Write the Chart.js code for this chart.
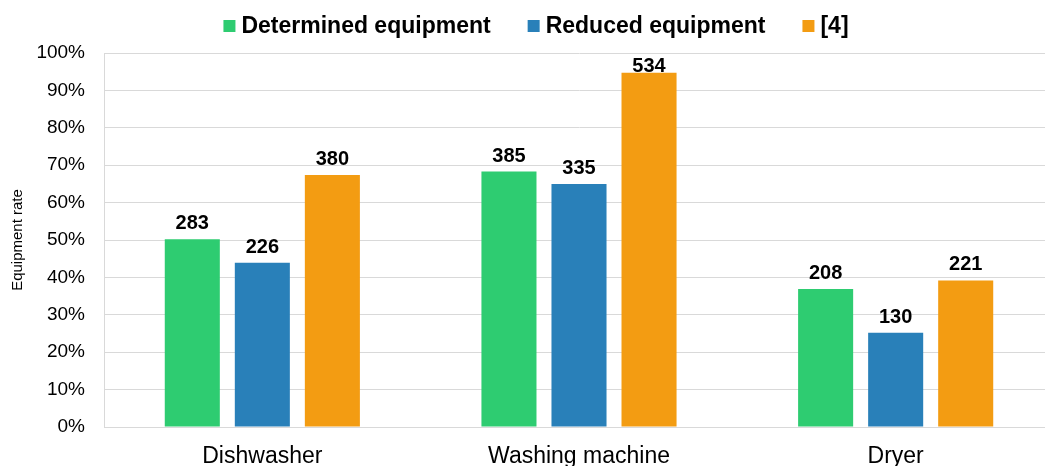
<!DOCTYPE html>
<html>
<head>
<meta charset="utf-8">
<script src="https://cdn.jsdelivr.net/npm/chart.js@4.4.1/dist/chart.umd.min.js"></script>
<style>
  html, body { margin: 0; padding: 0; background: #fff; overflow: hidden; }
  #clip { width: 1045px; height: 466px; overflow: hidden; }
  #wrap { position: relative; width: 1054px; height: 466px; }
</style>
</head>
<body>
<div id="clip"><div id="wrap"><canvas id="chart"></canvas></div></div>
<script>
// categories and series (bar height = share in %, label = count)
const categories = ['Dishwasher', 'Washing machine', 'Dryer'];
const seriesNames = ['Determined equipment', 'Reduced equipment', '[4]'];
const seriesColors = ['#2ecc71', '#2980b9', '#f39c12'];
const determinedRate = [50.2, 68.3, 36.9];
const reducedRate = [43.9, 65.0, 25.2];
const refRate = [67.4, 94.7, 39.2];
const determinedCount = [283, 385, 208];
const reducedCount = [226, 335, 130];
const refCount = [380, 534, 221];
const yTicks = [0, 10, 20, 30, 40, 50, 60, 70, 80, 90, 100];

const FONT = "'Liberation Sans', Arial, sans-serif";

// count above each bar (kept inside the plot when it would spill over the top)
const barLabels = {
  id: 'barLabels',
  afterDatasetsDraw(chart) {
    const ctx = chart.ctx;
    const top = chart.chartArea.top;
    ctx.save();
    ctx.font = 'bold 20px ' + FONT;
    ctx.fillStyle = '#000';
    ctx.textAlign = 'center';
    ctx.textBaseline = 'alphabetic';
    chart.data.datasets.forEach((ds, i) => {
      chart.getDatasetMeta(i).data.forEach((bar, j) => {
        const y = Math.max(bar.y - 10, top + 19);
        ctx.fillText(ds.counts[j], bar.x, y);
      });
    });
    ctx.restore();
  }
};

// legend drawn by hand so the spacing matches the original
const topLegend = {
  id: 'topLegend',
  afterDraw(chart) {
    const ctx = chart.ctx;
    const box = 12, gap = 6, spacing = 37, centerX = 536, centerY = 26;
    ctx.save();
    ctx.font = 'bold 23px ' + FONT;
    ctx.textBaseline = 'middle';
    ctx.textAlign = 'left';
    const widths = seriesNames.map(n => box + gap + ctx.measureText(n).width);
    const total = widths.reduce((a, b) => a + b, 0) + spacing * (widths.length - 1);
    let x = centerX - total / 2;
    seriesNames.forEach((name, i) => {
      ctx.fillStyle = seriesColors[i];
      ctx.fillRect(x, centerY - box / 2, box, box);
      ctx.fillStyle = '#000';
      ctx.fillText(name, x + box + gap, centerY + 1);
      x += widths[i] + spacing;
    });
    ctx.restore();
  }
};

const ctx = document.getElementById('chart').getContext('2d');
new Chart(ctx, {
  type: 'bar',
  data: {
    labels: categories,
    datasets: [
      { label: seriesNames[0], data: determinedRate, counts: determinedCount, backgroundColor: seriesColors[0] },
      { label: seriesNames[1], data: reducedRate, counts: reducedCount, backgroundColor: seriesColors[1] },
      { label: seriesNames[2], data: refRate, counts: refCount, backgroundColor: seriesColors[2] }
    ]
  },
  options: {
    responsive: true,
    maintainAspectRatio: false,
    animation: false,
    categoryPercentage: 0.6635,
    barPercentage: 0.786,
    layout: { padding: { left: 0, right: 0, top: 53, bottom: 0 } },
    plugins: {
      legend: { display: false },
      tooltip: { enabled: false }
    },
    scales: {
      x: {
        grid: { display: false, drawTicks: false },
        border: { color: '#d9d9d9' },
        afterFit: (scale) => { scale.height = 39; },
        ticks: { color: '#000', font: { family: FONT, size: 23, lineHeight: 1.0 }, padding: 18 }
      },
      y: {
        min: 0,
        max: 100,
        afterBuildTicks: (scale) => { scale.ticks = yTicks.map(v => ({ value: v })); },
        afterFit: (scale) => { scale.width = 104; },
        title: {
          display: true,
          text: 'Equipment rate',
          color: '#000',
          font: { family: FONT, size: 15 },
          padding: { top: 9, bottom: 9 }
        },
        grid: { color: '#d9d9d9', lineWidth: 1, drawTicks: false },
        border: { color: '#d9d9d9' },
        ticks: {
          color: '#000',
          font: { family: FONT, size: 19 },
          padding: 19,
          callback: (v) => v + '%'
        }
      }
    }
  },
  plugins: [barLabels, topLegend]
});
</script>
</body>
</html>
